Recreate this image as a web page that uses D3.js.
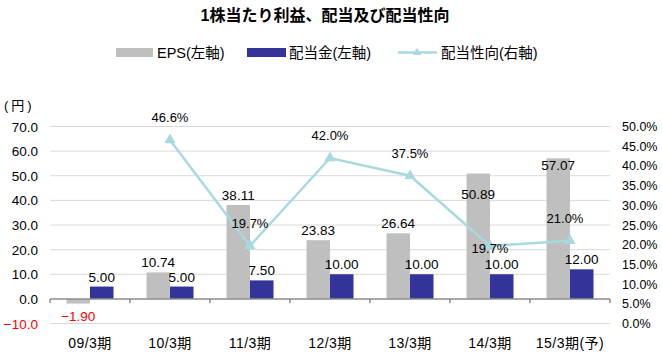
<!DOCTYPE html>
<html><head><meta charset="utf-8">
<script src="https://cdn.jsdelivr.net/npm/d3@7/dist/d3.min.js"></script>
<style>
html,body{margin:0;padding:0;background:#fff;}
text{font-family:"Liberation Sans","Noto Sans CJK JP",sans-serif;}
</style></head>
<body>
<svg id="c" width="662" height="355"></svg>
<script>
const categories = ["09/3期","10/3期","11/3期","12/3期","13/3期","14/3期","15/3期(予)"];
const eps = [-1.90, 10.74, 38.11, 23.83, 26.64, 50.89, 57.07];
const dividend = [5.00, 5.00, 7.50, 10.00, 10.00, 10.00, 12.00];
const payout = [null, 46.6, 19.7, 42.0, 37.5, 19.7, 21.0];
const leftTicks = [-10, 0, 10, 20, 30, 40, 50, 60, 70];
const rightTicks = [0, 5, 10, 15, 20, 25, 30, 35, 40, 45, 50];
const title = "1株当たり利益、配当及び配当性向";
const legendLabels = ["EPS(左軸)", "配当金(左軸)", "配当性向(右軸)"];

const svg = d3.select("#c");
const grayC = "#bfbfbf", blueC = "#333399", lineC = "#a8d9df", red = "#ff0000";

const x = d3.scaleBand().domain(categories).range([50, 610]).padding(0);
const y = d3.scaleLinear().domain([-10, 70]).range([323.5, 126.5]);
const yr = d3.scaleLinear().domain([0, 50]).range([323.5, 126.5]);
const bw = 23.5;
const f2 = d3.format(".2f"), f1 = d3.format(".1f");

// gridlines
svg.append("g").selectAll("line").data(leftTicks.filter(d => d !== 0)).join("line")
  .attr("x1", 50).attr("x2", 610).attr("y1", d => y(d)).attr("y2", d => y(d))
  .attr("stroke", "#d9d9d9").attr("stroke-width", 1);

// title
svg.append("text").attr("x", 325).attr("y", 21).attr("text-anchor", "middle")
  .attr("font-size", 16).attr("font-weight", "bold").attr("fill", "#000").text(title);

// legend
const lg = svg.append("g");
lg.append("rect").attr("x", 116).attr("y", 48).attr("width", 37).attr("height", 9).attr("fill", grayC);
lg.append("text").attr("x", 157).attr("y", 58).attr("font-size", 14.5).text(legendLabels[0]);
lg.append("rect").attr("x", 247).attr("y", 48).attr("width", 39).attr("height", 9).attr("fill", blueC);
lg.append("text").attr("x", 289).attr("y", 58).attr("font-size", 14.5).text(legendLabels[1]);
lg.append("line").attr("x1", 398).attr("x2", 437).attr("y1", 52.5).attr("y2", 52.5).attr("stroke", lineC).attr("stroke-width", 2.5);
lg.append("path").attr("d", d3.symbol(d3.symbolTriangle, 30)()).attr("transform", "translate(417,52.5)").attr("fill", lineC);
lg.append("text").attr("x", 441).attr("y", 58).attr("font-size", 14.5).text(legendLabels[2]);

// unit
svg.append("text").attr("x", 4).attr("y", 110).attr("font-size", 13).attr("letter-spacing", 3).text("(円)");

// left tick labels
svg.append("g").selectAll("text").data(leftTicks).join("text")
  .attr("x", 38).attr("y", d => y(d) + 5).attr("text-anchor", "end").attr("font-size", 13.5)
  .attr("fill", d => d < 0 ? red : "#000").text(d => f1(d));

// right tick labels
svg.append("g").selectAll("text").data(rightTicks).join("text")
  .attr("x", 622).attr("y", d => yr(d) + 4.5).attr("text-anchor", "start").attr("font-size", 12.5)
  .text(d => f1(d) + "%");

// bars
const cx = c => x(c) + x.bandwidth() / 2;
svg.append("g").selectAll("rect").data(categories).join("rect")
  .attr("x", c => cx(c) - bw).attr("width", bw)
  .attr("y", (c, i) => y(Math.max(0, eps[i])))
  .attr("height", (c, i) => Math.abs(y(eps[i]) - y(0)))
  .attr("fill", grayC);
svg.append("g").selectAll("rect").data(categories).join("rect")
  .attr("x", c => cx(c)).attr("width", bw)
  .attr("y", (c, i) => y(Math.max(0, dividend[i])))
  .attr("height", (c, i) => Math.abs(y(dividend[i]) - y(0)))
  .attr("fill", blueC);

// axis line at 0
const ax = svg.append("g");
ax.append("line").attr("x1", 50).attr("x2", 610).attr("y1", y(0)).attr("y2", y(0))
  .attr("stroke", "#8c8c8c").attr("stroke-width", 1.5);
ax.selectAll("line.t").data(d3.range(categories.length + 1)).join("line").attr("class", "t")
  .attr("x1", i => 50 + i * x.bandwidth()).attr("x2", i => 50 + i * x.bandwidth())
  .attr("y1", y(0)).attr("y2", y(0) + 4).attr("stroke", "#8c8c8c").attr("stroke-width", 1.5);

// x labels
svg.append("g").selectAll("text").data(categories).join("text")
  .attr("x", c => cx(c)).attr("y", 348).attr("text-anchor", "middle").attr("font-size", 14)
  .attr("letter-spacing", 0.5).text(c => c);

// line
const pts = categories.map((c, i) => ({c, v: payout[i], i})).filter(d => d.v !== null);
svg.append("path").datum(pts)
  .attr("d", d3.line().x(d => cx(d.c)).y(d => yr(d.v)))
  .attr("fill", "none").attr("stroke", lineC).attr("stroke-width", 2.5);
svg.append("g").selectAll("path").data(pts).join("path")
  .attr("d", d3.symbol(d3.symbolTriangle, 55)())
  .attr("transform", d => `translate(${cx(d.c)},${yr(d.v)})`).attr("fill", lineC);

// EPS labels
svg.append("g").selectAll("text").data(categories).join("text")
  .attr("x", c => cx(c) - bw / 2)
  .attr("y", (c, i) => {
    const v = eps[i];
    if (v < 0) return y(v) + 17;
    if (i === 5) return y(v) + 25;
    if (i === 6) return y(v) + 12;
    return y(v) - 5;
  })
  .attr("text-anchor", "middle").attr("font-size", 13.5)
  .attr("fill", (c, i) => eps[i] < 0 ? red : "#000")
  .text((c, i) => f2(eps[i]));

// dividend labels
svg.append("g").selectAll("text").data(categories).join("text")
  .attr("x", c => cx(c) + bw / 2)
  .attr("y", (c, i) => y(dividend[i]) - 5)
  .attr("text-anchor", "middle").attr("font-size", 13.5)
  .text((c, i) => f2(dividend[i]));

// payout labels
svg.append("g").selectAll("text").data(pts).join("text")
  .attr("x", d => cx(d.c) - (d.i === 6 ? 5 : 0))
  .attr("y", d => yr(d.v) + (d.i === 5 ? 7 : -18))
  .attr("text-anchor", "middle").attr("font-size", 13)
  .text(d => f1(d.v) + "%");
</script>
</body></html>
